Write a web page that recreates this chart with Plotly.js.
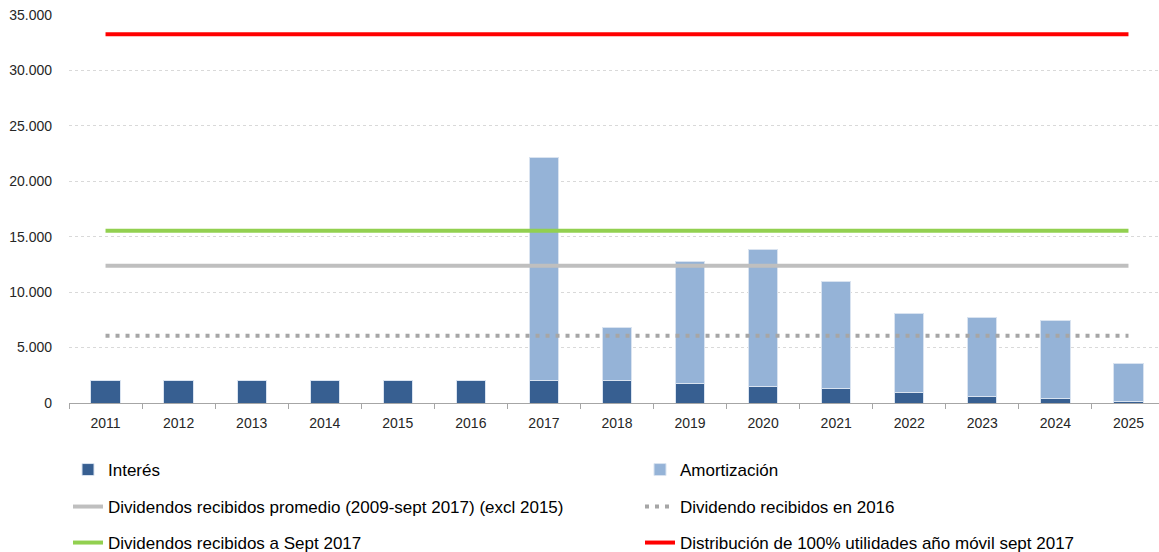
<!DOCTYPE html>
<html>
<head>
<meta charset="utf-8">
<script src="https://cdn.plot.ly/plotly-3.0.1.min.js"></script>
<style>
html,body{margin:0;padding:0;overflow:hidden;background:#fff;}
#chart{width:1166px;height:552px;}
</style>
</head>
<body>
<div id="chart"></div>
<script>
const years = ["2011","2012","2013","2014","2015","2016","2017","2018","2019","2020","2021","2022","2023","2024","2025"];
const interes = [2070,2070,2070,2070,2070,2070,2070,2070,1780,1530,1290,930,630,390,100];
const amortizacion = [0,0,0,0,0,0,20090,4760,11000,12330,9690,7160,7100,7040,3450];
const divPromedio = 12390;
const div2016 = 6070;
const divSept2017 = 15540;
const distribucion100 = 33260;

const names = {
  interes: "Interés",
  amort: "Amortización",
  prom: "Dividendos recibidos promedio (2009-sept 2017) (excl 2015)",
  d2016: "Dividendo recibidos en 2016",
  sept: "Dividendos recibidos a Sept 2017",
  dist: "Distribución de 100% utilidades año móvil sept 2017"
};

const flat = v => years.map(() => v);

const traces = [
  {type:"bar", x:years, y:interes, name:names.interes, legend:"legend",
   marker:{color:"#375F91", line:{color:"#D9E3F0", width:1}}},
  {type:"bar", x:years, y:amortizacion, name:names.amort, legend:"legend2",
   marker:{color:"#95B3D7", line:{color:"#D9E3F0", width:1}}},
  {type:"scatter", mode:"lines", x:years, y:flat(divPromedio), name:names.prom, legend:"legend3",
   line:{color:"#BFBFBF", width:4}},
  {type:"scatter", mode:"lines", x:years, y:flat(div2016), name:names.d2016, legend:"legend4",
   line:{color:"#A6A6A6", width:4, dash:"4px,6px"}},
  {type:"scatter", mode:"lines", x:years, y:flat(divSept2017), name:names.sept, legend:"legend5",
   line:{color:"#92D050", width:4}},
  {type:"scatter", mode:"lines", x:years, y:flat(distribucion100), name:names.dist, legend:"legend6",
   line:{color:"#FF0000", width:4}}
];

const legFont = {family:"Liberation Sans, Arial, sans-serif", size:17, color:"#000"};
function leg(x, ypx){
  return {xref:"container", yref:"container", x:x/1166, y:1-ypx/552, xanchor:"left", yanchor:"middle",
          orientation:"h", font:legFont, bgcolor:"rgba(0,0,0,0)", borderwidth:0};
}

const layout = {
  width:1166, height:552,
  margin:{l:69, r:1, t:15, b:149},
  paper_bgcolor:"#fff", plot_bgcolor:"#fff",
  separators:",.",
  barmode:"stack",
  bargap:0.6,
  font:{family:"Liberation Sans, Arial, sans-serif", size:14, color:"#262626"},
  xaxis:{type:"category", showgrid:false, showline:true, linecolor:"#A6A6A6", linewidth:1,
         ticks:"outside", tickson:"boundaries", ticklen:5, tickcolor:"#A6A6A6",
         ticklabelstandoff:7,
         tickfont:{size:14, color:"#262626"}, fixedrange:true},
  yaxis:{range:[0,35000], dtick:5000, tickformat:",d", showgrid:true, gridcolor:"#D9D9D9",
         griddash:"dot", gridwidth:1, zeroline:false, showline:false, ticks:"",
         ticklabelstandoff:16,
         tickfont:{size:14, color:"#262626"}, fixedrange:true},
  showlegend:true,
  legend:leg(68,470),
  legend2:leg(640,470),
  legend3:leg(68,507),
  legend4:leg(640,507),
  legend5:leg(68,543),
  legend6:leg(640,543)
};

Plotly.newPlot("chart", traces, layout, {displayModeBar:false, staticPlot:true});
</script>
</body>
</html>
